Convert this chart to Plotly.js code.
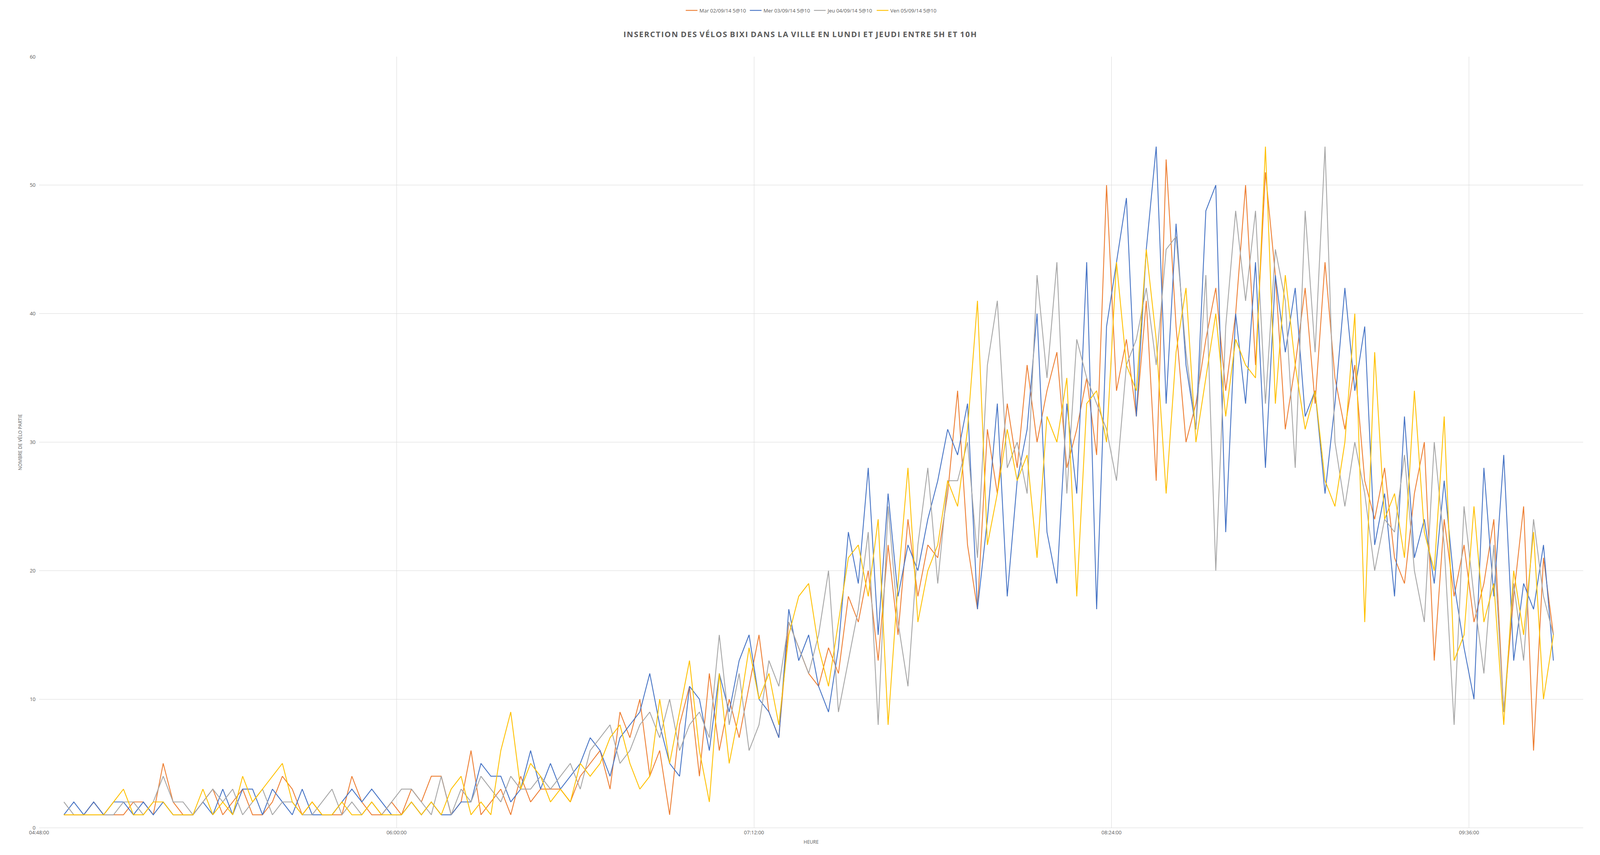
<!DOCTYPE html>
<html>
<head>
<meta charset="utf-8">
<script src="https://cdn.plot.ly/plotly-3.0.1.min.js"></script>
<style>html,body{margin:0;padding:0;background:#fff;overflow:hidden}#chart_area{width:100vw;height:100vh}</style>
</head>
<body>
<div id="chart_area"></div>
<script>
// one reading every 2 minutes, starting 04:53
var startTime = '2014-09-01 04:53:00';
var stepMinutes = 2;

var seriesNames = ['Mar 02/09/14 5@10', 'Mer 03/09/14 5@10', 'Jeu 04/09/14 5@10', 'Ven 05/09/14 5@10'];
var seriesColors = ['#ED7D31', '#4472C4', '#A5A5A5', '#FFC000'];

var mar = [1,1,1,2,1,1,1,2,2,1, 5,2,1,1,2,3,1,2,3,1, 1,2,4,3,1,2,1,1,1,4, 2,1,1,2,1,3,2,4,4,1,
  2,6,1,2,3,1,4,2,3,3, 3,2,4,5,6,3,9,7,10,4, 6,1,8,11,4,12,6,10,7,11, 15,9,7,16,14,12,11,14,12,18,
  16,20,13,22,15,24,18,22,21,26, 34,22,17,31,26,33,28,36,30,34, 37,28,31,35,29,50,34,38,32,41,
  27,52,39,30,33,38,42,34,40,50, 36,51,43,31,36,42,33,44,35,31, 36,27,24,28,21,19,26,30,13,24,
  18,22,16,19,24,9,18,25,6,21, 15];
var mer = [1,2,1,2,1,2,2,1,2,1, 2,1,1,1,2,1,3,1,3,3, 1,3,2,1,3,1,1,1,2,3, 2,3,2,1,1,2,1,2,1,1,
  2,2,5,4,4,2,3,6,3,5, 3,4,5,7,6,4,7,8,9,12, 8,5,4,11,10,6,12,9,13,15, 10,9,7,17,13,15,11,9,14,23,
  19,28,15,26,18,22,20,24,27,31, 29,33,17,24,33,18,27,31,40,23, 19,33,26,44,17,39,44,49,32,45,
  53,33,47,36,31,48,50,23,40,33, 44,28,43,37,42,32,34,26,33,42, 34,39,22,26,18,32,21,24,19,27,
  19,14,10,28,18,29,13,19,17,22, 13];
var jeu = [2,1,1,1,1,1,2,2,1,2, 4,2,2,1,2,3,2,3,1,2, 3,1,2,2,1,1,2,3,1,2, 1,2,1,2,3,3,2,1,4,1,
  3,2,4,3,2,4,3,3,4,3, 4,5,3,6,7,8,5,6,8,9, 7,10,6,8,9,7,15,8,12,6, 8,13,11,16,14,12,15,20,9,13,
  17,23,8,25,16,11,22,28,19,27, 27,30,21,36,41,28,30,26,43,35, 44,26,38,35,33,31,27,36,38,42,
  36,45,46,37,31,43,20,39,48,41, 48,33,45,41,28,48,37,53,30,25, 30,26,20,24,23,29,20,16,30,22,
  8,25,18,12,22,9,19,13,24,18, 15];
var ven = [1,1,1,1,1,2,3,1,1,2, 2,1,1,1,3,1,2,1,4,2, 3,4,5,2,1,2,1,1,2,1, 1,2,1,1,1,2,1,2,1,3,
  4,1,2,1,6,9,3,5,4,2, 3,2,5,4,5,7,8,5,3,4, 10,5,9,13,6,2,12,5,9,14, 10,12,8,15,18,19,14,11,16,21,
  22,18,24,8,19,28,16,20,22,27, 25,31,41,22,26,31,27,29,21,32, 30,35,18,33,34,30,44,36,34,45,
  38,26,37,42,30,35,40,32,38,36, 35,53,33,43,36,31,34,27,25,30, 40,16,37,24,26,21,34,23,20,32,
  13,15,25,16,19,8,20,15,23,10, 15];

var yTickVals = [0, 10, 20, 30, 40, 50, 60];

function timeAxis(n) {
  var t0 = new Date(startTime.replace(' ', 'T')).getTime();
  var out = [];
  for (var i = 0; i < n; i++) {
    var d = new Date(t0 + i * stepMinutes * 60000);
    out.push('2014-09-01 ' + d.toTimeString().slice(0, 8));
  }
  return out;
}

var allSeries = [mar, mer, jeu, ven];
var data = [];
for (var k = 0; k < allSeries.length; k++) {
  data.push({
    name: seriesNames[k],
    type: 'scatter',
    mode: 'lines',
    x: timeAxis(allSeries[k].length),
    y: allSeries[k],
    line: { color: seriesColors[k], width: 2.2 }
  });
}

var grey = '#595959';
var layout = {
  autosize: true,
  paper_bgcolor: '#fff', plot_bgcolor: '#fff',
  margin: { l: 100, r: 43, t: 100, b: 70 },
  font: { family: 'Open Sans, Liberation Sans, Arial', color: grey, size: 13 },
  title: { text: '<b>I N S E R C T I O N  D E S  V É L O S  B I X I  D A N S  L A  V I L L E  E N  L U N D I  E T  J E U D I  E N T R E  5 H  E T  1 0 H</b>'.replace(/ (?! )/g, '\u200a').replace(/  /g, ' \u200a'),
    x: 0.5, y: 0.96, yanchor: 'middle', font: { size: 20, color: grey } },
  showlegend: true,
  legend: { orientation: 'h', x: 0.5, xanchor: 'center', y: 1.06, yanchor: 'middle',
    font: { size: 13, color: grey } },
  xaxis: {
    type: 'date',
    range: ['2014-09-01 04:48:00', '2014-09-01 09:59:00'],
    tick0: '2014-09-01 04:48:00', dtick: 72 * 60000,
    tickformat: '%H:%M:%S',
    showgrid: true, gridcolor: '#D9D9D9', gridwidth: 1,
    zeroline: false, showline: true, linecolor: '#D9D9D9', linewidth: 1,
    ticks: '', ticklen: 0,
    title: { text: 'HEURE', font: { size: 12, color: grey }, standoff: 12 }
  },
  yaxis: {
    range: [0, 60], tickvals: yTickVals,
    showgrid: true, gridcolor: '#D9D9D9', gridwidth: 1,
    zeroline: false, ticks: '', ticklabelstandoff: 8,
    title: { text: 'NOMBRE DE VÉLO PARTIE', font: { size: 12, color: grey }, standoff: 16 }
  },
  shapes: [{ type: 'rect', xref: 'paper', yref: 'paper', x0: -0.0637, x1: 1.0283, y0: -0.1, y1: 1.147,
    line: { color: '#D9D9D9', width: 1 } }]
};

Plotly.newPlot('chart_area', data, layout, { responsive: true, displayModeBar: false });
</script>
</body>
</html>
